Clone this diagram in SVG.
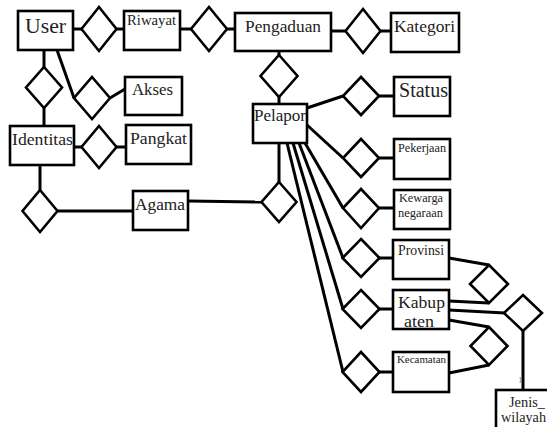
<svg xmlns="http://www.w3.org/2000/svg" width="547" height="427" viewBox="0 0 547 427">
<style>
.b{fill:none;stroke:#000;stroke-width:2.6}
.d{fill:#fff;stroke:#000;stroke-width:2.6}
.c line{stroke:#000;stroke-width:3;fill:none}
text{font-family:'Liberation Serif','Tinos','Times New Roman','DejaVu Serif','Noto Serif',serif;fill:#222}
</style>
<rect width="547" height="427" fill="#fff"/>
<g class="c">
<line x1="73" y1="29" x2="82" y2="29"/>
<line x1="116" y1="29" x2="124" y2="29"/>
<line x1="180" y1="29" x2="191" y2="29"/>
<line x1="226" y1="29" x2="235" y2="29"/>
<line x1="331" y1="31" x2="346" y2="31"/>
<line x1="380" y1="31" x2="391" y2="31"/>
<line x1="279" y1="51" x2="279" y2="55"/>
<line x1="279" y1="97" x2="279" y2="104"/>
<line x1="307" y1="108" x2="343" y2="96"/>
<line x1="379" y1="96" x2="394" y2="96"/>
<line x1="44" y1="50" x2="44" y2="67"/>
<line x1="44" y1="108" x2="44" y2="126"/>
<line x1="57" y1="50" x2="74" y2="98"/>
<line x1="110" y1="98" x2="125" y2="89"/>
<line x1="74" y1="147" x2="82" y2="147"/>
<line x1="116" y1="147" x2="126" y2="147"/>
<line x1="40" y1="165" x2="40" y2="190"/>
<line x1="57" y1="211" x2="133" y2="211"/>
<line x1="188" y1="201" x2="262" y2="202"/>
<line x1="279" y1="143" x2="279" y2="182"/>
<line x1="307" y1="125" x2="343" y2="158"/>
<line x1="379" y1="158" x2="394" y2="158"/>
<line x1="305" y1="143" x2="343" y2="208"/>
<line x1="379" y1="208" x2="394" y2="208"/>
<line x1="299" y1="143" x2="343" y2="258"/>
<line x1="379" y1="258" x2="393" y2="258"/>
<line x1="293" y1="143" x2="343" y2="309"/>
<line x1="379" y1="309" x2="393" y2="309"/>
<line x1="287" y1="143" x2="343" y2="372"/>
<line x1="379" y1="372" x2="393" y2="372"/>
<line x1="449" y1="258" x2="489" y2="265"/>
<line x1="449" y1="301" x2="489" y2="303"/>
<line x1="449" y1="310" x2="505" y2="313"/>
<line x1="449" y1="320" x2="489" y2="327"/>
<line x1="449" y1="373" x2="489" y2="365"/>
<line x1="523" y1="331" x2="523" y2="390"/>
</g>
<g id="rel-user-riwayat"><polygon class="d" points="99,7 116.5,29 99,51 81.5,29"/></g>
<g id="rel-riwayat-pengaduan"><polygon class="d" points="209,7 227,29 209,51 191,29"/></g>
<g id="rel-pengaduan-kategori"><polygon class="d" points="363,9 380.5,31 363,53 345.5,31"/></g>
<g id="rel-pengaduan-pelapor"><polygon class="d" points="279,55 297.5,76 279,97 260.5,76"/></g>
<g id="rel-user-identitas"><polygon class="d" points="44,67 62,87.5 44,108 26,87.5"/></g>
<g id="rel-user-akses"><polygon class="d" points="92,77 110,98 92,119 74,98"/></g>
<g id="rel-identitas-pangkat"><polygon class="d" points="99,126 116.5,147 99,168 81.5,147"/></g>
<g id="rel-identitas-agama"><polygon class="d" points="40,190 57.5,211 40,232 22.5,211"/></g>
<g id="rel-pelapor-agama"><polygon class="d" points="279,182 296.5,202 279,222 261.5,202"/></g>
<g id="rel-pelapor-status"><polygon class="d" points="361,77 379,96 361,115 343,96"/></g>
<g id="rel-pelapor-pekerjaan"><polygon class="d" points="361,139 379,158 361,177 343,158"/></g>
<g id="rel-pelapor-kewarga"><polygon class="d" points="361,189 379,208 361,228 343,208"/></g>
<g id="rel-pelapor-provinsi"><polygon class="d" points="361,239 379.5,258 361,277 342.5,258"/></g>
<g id="rel-pelapor-kabupaten"><polygon class="d" points="361,290 379.5,309 361,328 342.5,309"/></g>
<g id="rel-pelapor-kecamatan"><polygon class="d" points="361,352 379.5,372 361,392 342.5,372"/></g>
<g id="rel-provinsi-kabupaten"><polygon class="d" points="489,265 508,284 489,303 470,284"/></g>
<g id="rel-kabupaten-kecamatan"><polygon class="d" points="489,327 507.5,346 489,365 470.5,346"/></g>
<g id="rel-jenis-wilayah"><polygon class="d" points="523,295 542,313 523,331 504,313"/></g>

<g id="user"><text x="25" y="33" font-size="21" textLength="41" lengthAdjust="spacingAndGlyphs">User</text><rect class="b" x="18" y="11" width="55" height="39"/></g>
<g id="riwayat"><text x="127" y="25" font-size="14" textLength="49" lengthAdjust="spacingAndGlyphs">Riwayat</text><rect class="b" x="124" y="11" width="56" height="39"/></g>
<g id="pengaduan"><text x="245" y="32" font-size="17" textLength="76" lengthAdjust="spacingAndGlyphs">Pengaduan</text><rect class="b" x="235" y="13" width="96" height="38"/></g>
<g id="kategori"><text x="394" y="32" font-size="17" textLength="61" lengthAdjust="spacingAndGlyphs">Kategori</text><rect class="b" x="391" y="13" width="68" height="39"/></g>
<g id="akses"><text x="132" y="95" font-size="17" textLength="41" lengthAdjust="spacingAndGlyphs">Akses</text><rect class="b" x="125" y="77" width="57" height="38"/></g>
<g id="identitas"><text x="12" y="145" font-size="17.5" textLength="61" lengthAdjust="spacingAndGlyphs">Identitas</text><rect class="b" x="10" y="126" width="64" height="39"/></g>
<g id="pangkat"><text x="130" y="144" font-size="17.5" textLength="57" lengthAdjust="spacingAndGlyphs">Pangkat</text><rect class="b" x="126" y="125" width="65" height="39"/></g>
<g id="agama"><text x="135" y="210" font-size="17.3" textLength="50" lengthAdjust="spacingAndGlyphs">Agama</text><rect class="b" x="133" y="191" width="55" height="39"/></g>
<g id="pelapor"><text x="254" y="121" font-size="17" textLength="52" lengthAdjust="spacingAndGlyphs">Pelapor</text><rect class="b" x="253" y="104" width="54" height="39"/></g>
<g id="status"><text x="399" y="97" font-size="20" textLength="49" lengthAdjust="spacingAndGlyphs">Status</text><rect class="b" x="394" y="77" width="56" height="39"/></g>
<g id="pekerjaan"><text x="398" y="152" font-size="12" textLength="48" lengthAdjust="spacingAndGlyphs">Pekerjaan</text><rect class="b" x="394" y="139" width="56" height="40"/></g>
<g id="kewarganegaraan"><text x="399" y="202" font-size="12.2" textLength="44" lengthAdjust="spacingAndGlyphs">Kewarga</text><text x="398" y="217" font-size="12.2" textLength="45" lengthAdjust="spacingAndGlyphs">negaraan</text><rect class="b" x="394" y="190" width="56" height="39"/></g>
<g id="provinsi"><text x="398" y="255" font-size="14" textLength="46" lengthAdjust="spacingAndGlyphs">Provinsi</text><rect class="b" x="393" y="240" width="56" height="39"/></g>
<g id="kabupaten"><text x="398" y="308" font-size="17.6" textLength="47" lengthAdjust="spacingAndGlyphs">Kabup</text><text x="404" y="327" font-size="17.6" textLength="30" lengthAdjust="spacingAndGlyphs">aten</text><rect class="b" x="393" y="290" width="56" height="39"/></g>
<g id="kecamatan"><text x="397" y="363" font-size="11" textLength="49" lengthAdjust="spacingAndGlyphs">Kecamatan</text><rect class="b" x="393" y="352" width="56" height="40"/></g>
<g id="jenis-wilayah"><text x="518" y="383" font-size="9" style="fill:#888">1</text><text x="509" y="407" font-size="14" textLength="36" lengthAdjust="spacingAndGlyphs">Jenis_</text><text x="501" y="422" font-size="14" textLength="45" lengthAdjust="spacingAndGlyphs">wilayah</text><rect class="b" x="496" y="390" width="56" height="42"/></g>
</svg>
